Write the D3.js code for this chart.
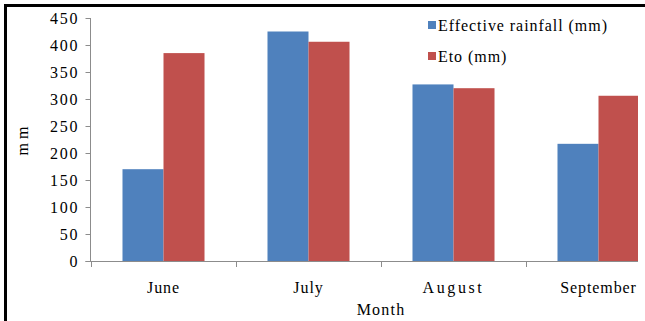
<!DOCTYPE html>
<html>
<head>
<meta charset="utf-8">
<script src="https://cdn.jsdelivr.net/npm/d3@7/dist/d3.min.js"></script>
<style>
html,body{margin:0;padding:0;background:#fff;}
svg{display:block;}
text{font-family:"Liberation Serif","Times New Roman",serif;fill:#000;}
</style>
</head>
<body>
<svg id="c" width="645" height="321"></svg>
<script>
const months = ["June", "July", "August", "September"];
const seriesNames = ["Effective rainfall (mm)", "Eto (mm)"];
const effectiveRainfall = [170, 425, 327, 217];
const eto = [385, 406, 320, 306];
const yTicks = [0, 50, 100, 150, 200, 250, 300, 350, 400, 450];
const colors = ["#4F81BD", "#C0504D"];

(function () {
const svg = d3.select("#c");
const W = 645, H = 321;
const mLeft = 90.5, mTop = 18, mBottom = 261;

const x0 = d3.scaleBand().domain(months).range([mLeft + 0.5, 671]).padding(0);
const x1 = d3.scaleBand().domain(seriesNames).range([0, x0.bandwidth()]).paddingInner(0).paddingOuter(0.768);
const y = d3.scaleLinear().domain([0, 450]).range([mBottom, mTop]);

svg.append("defs").append("clipPath").attr("id", "clip")
  .append("rect").attr("x", 0).attr("y", 0).attr("width", 638).attr("height", H);

const g = svg.append("g").attr("clip-path", "url(#clip)");

// bars
const data = months.map((m, i) => ({m, vals: [effectiveRainfall[i], eto[i]]}));
g.selectAll("g.grp").data(data).join("g").attr("class", "grp")
  .attr("transform", d => `translate(${x0(d.m)},0)`)
  .selectAll("rect").data(d => d.vals.map((v, j) => ({s: seriesNames[j], v, j})))
  .join("rect")
  .attr("x", d => x1(d.s))
  .attr("width", x1.bandwidth())
  .attr("y", d => y(d.v))
  .attr("height", d => y(0) - y(d.v))
  .attr("fill", d => colors[d.j]);

// y axis
const yAxis = d3.axisLeft(y).tickValues(yTicks).tickSize(5).tickPadding(8);
const ya = svg.append("g").attr("transform", `translate(${mLeft},0)`).call(yAxis);
ya.select(".domain").attr("stroke", "#8c8c8c").attr("d", `M0,${mTop}V${mBottom}`);
ya.selectAll(".tick line").attr("stroke", "#8c8c8c");
ya.attr("font-family", null).attr("font-size", null);
ya.selectAll(".tick text").style("font-size", "16px").style("letter-spacing", "1.8px")
  .attr("dx", "1.8").attr("fill", "#000");

// x axis line
g.append("line").attr("x1", mLeft - 5).attr("x2", 671).attr("y1", mBottom + 0.5).attr("y2", mBottom + 0.5)
  .attr("stroke", "#8c8c8c");
// boundary ticks
const bounds = months.map(m => x0(m)).concat([x0(months[months.length - 1]) + x0.bandwidth()]);
g.selectAll("line.bt").data(bounds).join("line").attr("class", "bt")
  .attr("x1", d => Math.round(d) + 0.5).attr("x2", d => Math.round(d) + 0.5)
  .attr("y1", mBottom).attr("y2", mBottom + 6).attr("stroke", "#8c8c8c");

// category labels
svg.selectAll("text.cat").data(months).join("text").attr("class", "cat")
  .attr("x", d => x0(d) + x0.bandwidth() / 2)
  .attr("y", 292.5)
  .attr("text-anchor", "middle")
  .style("font-size", "16px")
  .style("letter-spacing", d => d === "August" ? "2.6px" : "0.9px")
  .text(d => d);

// axis titles
svg.append("text").attr("x", 381).attr("y", 315).attr("text-anchor", "middle")
  .style("font-size", "16px").style("letter-spacing", "1.2px").text("Month");
svg.append("text").attr("transform", "translate(28,141) rotate(-90)").attr("text-anchor", "middle")
  .style("font-size", "16px").text("m m");

// legend
const lg = svg.append("g");
seriesNames.forEach((s, i) => {
  lg.append("rect").attr("x", 428).attr("y", 21 + i * 31).attr("width", 8).attr("height", 8).attr("fill", colors[i]);
  lg.append("text").attr("x", 438).attr("y", 30.5 + i * 31)
    .style("font-size", "16px").style("letter-spacing", "0.95px").text(s);
});

// frame (left and top)
svg.append("rect").attr("x", 4).attr("y", 4).attr("width", 3).attr("height", H - 4).attr("fill", "#000");
svg.append("rect").attr("x", 4).attr("y", 4).attr("width", W - 4).attr("height", 3).attr("fill", "#000");
})();
</script>
</body>
</html>
